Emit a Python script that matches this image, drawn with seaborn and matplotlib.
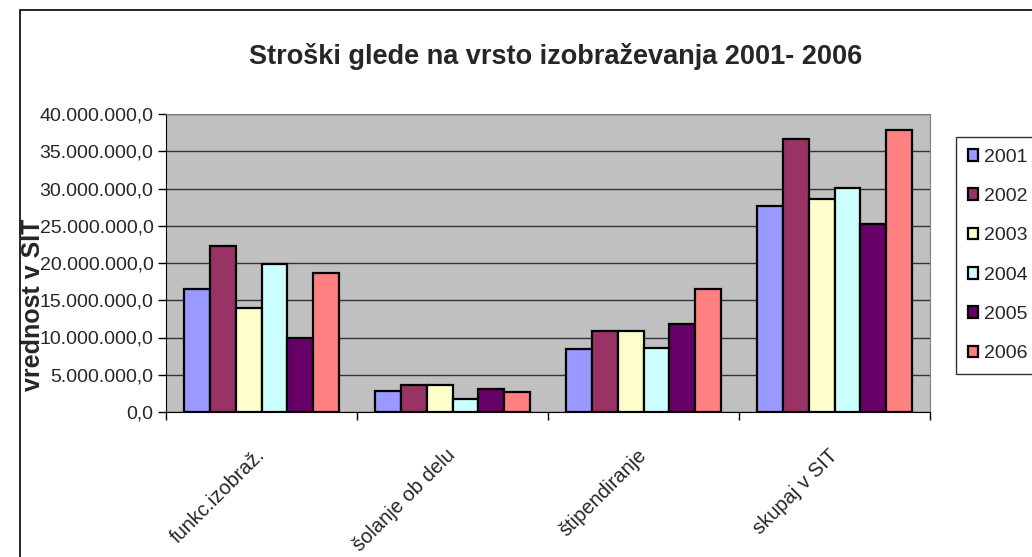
import pandas as pd
import matplotlib.pyplot as plt
import seaborn as sns
from matplotlib.ticker import FuncFormatter, FixedLocator
from matplotlib.patches import Rectangle

categories = ["funkc.izobraž.", "šolanje ob delu", "štipendiranje", "skupaj v SIT"]
years = ["2001", "2002", "2003", "2004", "2005", "2006"]
v2001 = [16450000, 2780000, 8400000, 27700000]
v2002 = [22300000, 3680000, 10900000, 36600000]
v2003 = [13900000, 3680000, 10900000, 28600000]
v2004 = [19900000, 1800000, 8650000, 30100000]
v2005 = [9900000, 3050000, 11800000, 25200000]
v2006 = [18650000, 2700000, 16450000, 37900000]
colors = ["#9999FF", "#993366", "#FFFFCC", "#CCFFFF", "#660066", "#FF8080"]

rows = []
for y, vals in zip(years, [v2001, v2002, v2003, v2004, v2005, v2006]):
    for c, v in zip(categories, vals):
        rows.append({"kategorija": c, "leto": y, "vrednost": v})
df = pd.DataFrame(rows)

sns.set_style("white")
plt.rcParams['font.family'] = ['Liberation Sans', 'DejaVu Sans']

fig = plt.figure(figsize=(10.32, 5.57), dpi=100)
ax = fig.add_axes([166/1032, 1-412/557, (930-166)/1032, (412-114)/557])
ax.set_facecolor("#C0C0C0")

sns.barplot(data=df, x="kategorija", y="vrednost", hue="leto", palette=colors,
            width=0.81, edgecolor="black", linewidth=1.6, saturation=1, ax=ax)

ax.set_ylim(0, 40000000)
ax.set_xlim(-0.5, 3.5)
ax.set_yticks(range(0, 40000001, 5000000))
ax.yaxis.set_major_formatter(FuncFormatter(
    lambda v, p: f"{v:,.1f}".replace(",", "X").replace(".", ",").replace("X", ".")))
ax.grid(axis="y", color="#333333", linewidth=1)
ax.set_axisbelow(True)
for s in ax.spines.values():
    s.set_color("#808080")
ax.spines["left"].set_color("black")
ax.spines["bottom"].set_color("black")

ax.tick_params(axis="y", direction="out", length=6, width=1, color="black", labelsize=14, pad=3, left=True)
ax.xaxis.set_minor_locator(FixedLocator([-0.5, 0.5, 1.5, 2.5, 3.5]))
ax.tick_params(axis="x", which="minor", direction="out", length=6, width=1, color="black", bottom=True)
ax.tick_params(axis="x", which="major", length=0, pad=29)
ax.set_xticks(range(len(categories)))
ax.set_xticklabels(categories, rotation=45, ha="right", va="center", rotation_mode="anchor", fontsize=14.5)
ax.set_xlabel("")
ax.set_ylabel("vrednost v SIT", fontsize=18, fontweight="bold")
ax.yaxis.set_label_coords(-0.158, 0.36)

handles, labels = ax.get_legend_handles_labels()
ax.legend_.remove()
leg = fig.legend(handles, labels, loc="upper left", bbox_to_anchor=(956/1032, 1-137/557),
                 fontsize=14, frameon=True, fancybox=False, edgecolor="black",
                 handlelength=0.55, handleheight=0.55, handletextpad=0.3,
                 labelspacing=1.15, borderpad=0.6, borderaxespad=0)
leg.get_frame().set_linewidth(1)

fig.text(556/1032, 1-57/557, "Stroški glede na vrsto izobraževanja 2001- 2006",
         ha="center", va="center", fontsize=19.5, fontweight="bold")
fig.patches.append(Rectangle((20/1032, -0.05), 1.2, 1.05-10/557, transform=fig.transFigure,
                             fill=False, edgecolor="black", linewidth=1.2))

plt.savefig("out.png", dpi=100)
